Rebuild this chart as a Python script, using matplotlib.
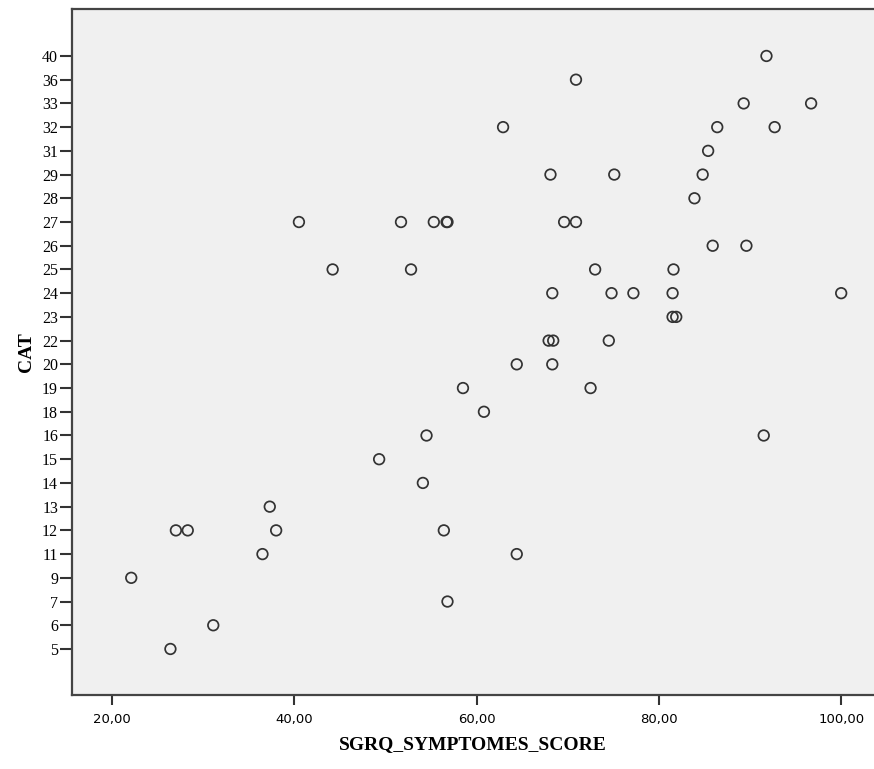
import matplotlib
matplotlib.use("Agg")
import matplotlib.pyplot as plt

# CAT categories shown on the y axis (SPSS treats them as ordered levels)
cat_levels = [5, 6, 7, 9, 11, 12, 13, 14, 15, 16, 18, 19, 20,
              22, 23, 24, 25, 26, 27, 28, 29, 31, 32, 33, 36, 40]

# SGRQ symptom score and CAT value of each patient
sgrq = [22.1, 26.4, 27.0, 28.3, 31.1, 37.3, 38.0, 36.5,
        70.9, 62.9, 68.1, 40.5, 51.7, 55.3, 56.7, 56.8, 69.6, 70.9,
        44.2, 52.8, 68.3, 67.9, 68.4,
        64.4, 68.3, 58.5, 60.8, 54.5, 49.3, 54.1, 56.4, 64.4, 56.8,
        91.8, 89.3, 96.7, 86.4, 92.7, 85.4, 75.1, 84.8, 83.9,
        85.9, 89.6, 73.0, 81.6, 74.8, 77.2, 81.5, 100.0, 81.5, 81.9, 74.5,
        72.5, 91.5]
cat = [9, 5, 12, 12, 6, 13, 12, 11,
       36, 32, 29, 27, 27, 27, 27, 27, 27, 27,
       25, 25, 24, 22, 22,
       20, 20, 19, 18, 16, 15, 14, 12, 11, 7,
       40, 33, 33, 32, 32, 31, 29, 29, 28,
       26, 26, 25, 25, 24, 24, 24, 24, 23, 23, 22,
       19, 16]

x_ticks = [20, 40, 60, 80, 100]

fig = plt.figure(figsize=(8.74, 7.69), dpi=100)
ax = fig.add_axes([72 / 874, 74 / 769, 1 - 72 / 874, 686 / 769])
ax.set_facecolor('#f0f0f0')

y_pos = [cat_levels.index(c) for c in cat]
ax.scatter(sgrq, y_pos, s=58, facecolors='none', edgecolors='#333333',
           linewidths=1.25, zorder=3)

ax.set_xlim(15.6, 103.6)
ax.set_ylim(-1.94, 26.98)

ax.set_yticks(range(len(cat_levels)))
ax.set_yticklabels([str(c) for c in cat_levels], family='Liberation Serif', fontsize=11.5)
ax.set_xticks(x_ticks)
ax.set_xticklabels([f"{v},00" for v in x_ticks], family='DejaVu Sans', fontsize=9.5)

ax.tick_params(axis='y', length=9, width=1.5, color='#333333', pad=1)
ax.tick_params(axis='x', length=7, width=1.5, color='#333333', pad=6)

for side in ['left', 'bottom', 'top']:
    ax.spines[side].set_color('#444444')
    ax.spines[side].set_linewidth(1.6)
ax.spines['right'].set_visible(False)

ax.set_xlabel('SGRQ_SYMPTOMES_SCORE', family='Liberation Serif', fontsize=14,
              fontweight='bold', labelpad=7)
ax.set_ylabel('CAT', family='Liberation Serif', fontsize=14, fontweight='bold',
              labelpad=5)

fig.savefig('out.png', dpi=100)
